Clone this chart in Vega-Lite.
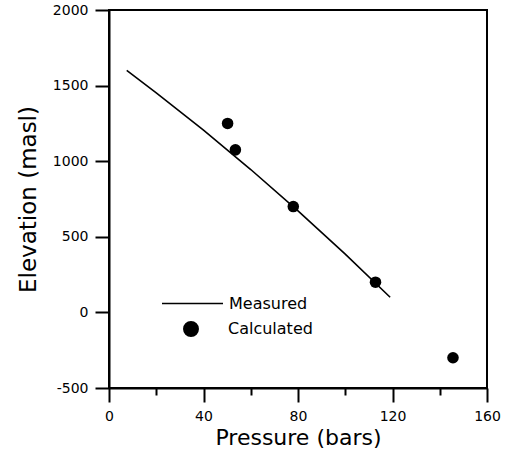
{
  "$schema": "https://vega.github.io/schema/vega-lite/v6.json",
  "width": 378,
  "height": 378,
  "autosize": {"type": "none"},
  "padding": {"left": 109, "top": 10, "right": 19, "bottom": 75},
  "background": "white",
  "config": {
    "view": {"stroke": "black", "strokeWidth": 2},
    "axis": {
      "grid": false,
      "domainColor": "black",
      "domainWidth": 2,
      "tickColor": "black",
      "tickWidth": 2,
      "labelFont": "DejaVu Sans",
      "labelFontSize": 14,
      "labelColor": "black",
      "labelFlush": false,
      "labelOverlap": false,
      "titleFont": "DejaVu Sans",
      "titleFontWeight": "normal",
      "titleColor": "black"
    },
    "legend": {
      "labelFont": "DejaVu Sans",
      "labelFontSize": 16,
      "labelColor": "black"
    }
  },
  "datasets": {
    "measured": [
      {"pressure": 7.5, "elevation": 1600},
      {"pressure": 20, "elevation": 1452},
      {"pressure": 40, "elevation": 1206},
      {"pressure": 60, "elevation": 945},
      {"pressure": 80, "elevation": 672},
      {"pressure": 100, "elevation": 385},
      {"pressure": 119, "elevation": 100}
    ],
    "calculated": [
      {"pressure": 50.2, "elevation": 1250},
      {"pressure": 53.5, "elevation": 1075},
      {"pressure": 78, "elevation": 700},
      {"pressure": 112.8, "elevation": 200},
      {"pressure": 145.6, "elevation": -300}
    ]
  },
  "layer": [
    {
      "data": {"name": "measured"},
      "mark": {"type": "line", "strokeWidth": 1.6},
      "encoding": {
        "x": {
          "field": "pressure",
          "type": "quantitative",
          "scale": {"domain": [0, 160], "nice": false, "zero": false},
          "axis": {
            "title": "Pressure (bars)",
            "titleFontSize": 22,
            "titlePadding": 4,
            "values": [0, 20, 40, 60, 80, 100, 120, 140, 160],
            "labelExpr": "datum.value % 40 === 0 ? '' + datum.value : ''",
            "tickSize": {"condition": {"test": "datum.value % 40 === 0", "value": 14}, "value": 7},
            "labelPadding": 7
          }
        },
        "y": {
          "field": "elevation",
          "type": "quantitative",
          "scale": {"domain": [-500, 2000], "nice": false, "zero": false},
          "axis": {
            "title": "Elevation (masl)",
            "titleFontSize": 23,
            "titlePadding": 12,
            "values": [-500, -250, 0, 250, 500, 750, 1000, 1250, 1500, 1750, 2000],
            "labelExpr": "datum.value % 500 === 0 ? '' + datum.value : ''",
            "tickSize": {"condition": {"test": "datum.value % 500 === 0", "value": 14}, "value": 8},
            "labelPadding": 7
          }
        },
        "stroke": {
          "datum": "Measured",
          "scale": {"range": ["black"]},
          "legend": {
            "title": null,
            "orient": "none",
            "legendX": 52,
            "legendY": 262,
            "symbolType": "stroke",
            "symbolSize": 3721,
            "symbolStrokeWidth": 1.5,
            "symbolStrokeColor": "black",
            "labelOffset": 5
          }
        }
      }
    },
    {
      "data": {"name": "calculated"},
      "mark": {"type": "point", "filled": true, "size": 133, "shape": "circle", "opacity": 1},
      "encoding": {
        "x": {"field": "pressure", "type": "quantitative"},
        "y": {"field": "elevation", "type": "quantitative"},
        "fill": {
          "datum": "Calculated",
          "scale": {"range": ["black"]},
          "legend": {
            "title": null,
            "orient": "none",
            "legendX": 74,
            "legendY": 311,
            "symbolType": "circle",
            "symbolSize": 254,
            "symbolFillColor": "black",
            "symbolStrokeWidth": 0,
            "symbolOpacity": 1,
            "labelOffset": 29
          }
        }
      }
    }
  ]
}
